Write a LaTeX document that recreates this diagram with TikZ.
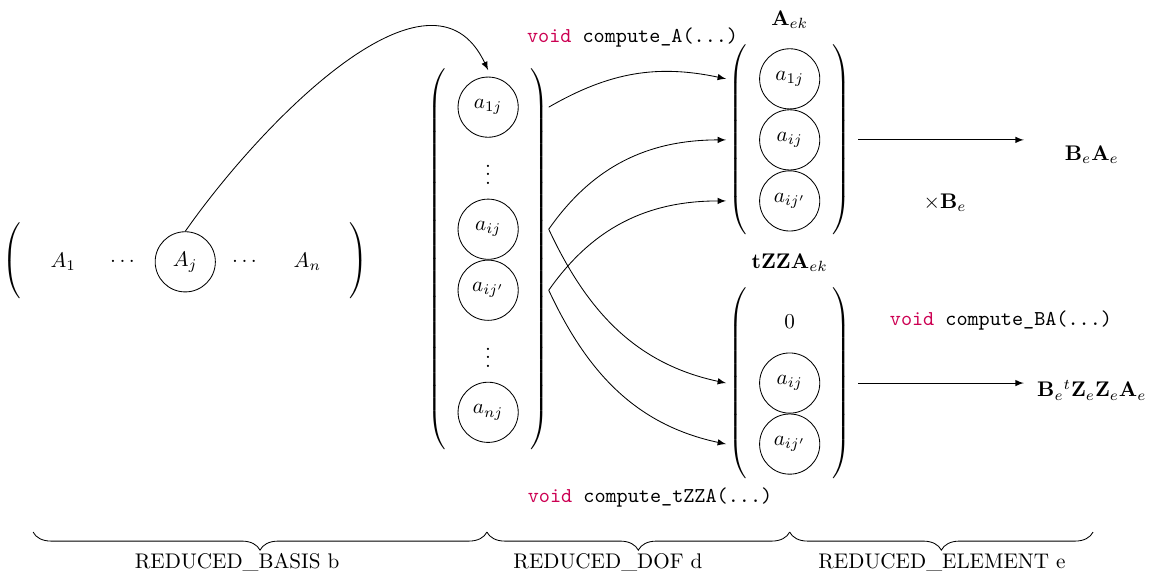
\documentclass[tikz,border=0pt]{standalone}
\usepackage{amsmath,amssymb}
\usetikzlibrary{positioning,fit,matrix,decorations.pathreplacing}
\definecolor{kwred}{RGB}{204,0,82}
\newcommand{\kw}[1]{\textcolor{kwred}{#1}}

\begin{document}
\begin{tikzpicture}[
    entry/.style={circle, draw, minimum size=1cm, inner sep=0pt},
    blank/.style={circle, minimum size=1cm, inner sep=0pt},
    vec/.style={inner xsep=0.15cm, inner ysep=0.1cm, left delimiter=(, right delimiter=)},
    arr/.style={->, >=latex},
    brace/.style={decorate, decoration={brace, mirror, amplitude=0.3cm}},
    code/.style={font=\ttfamily}
]
    \useasboundingbox (0,0) rectangle (19.09,-9.55);

    % --- reduced basis row ---
    \node[blank] (A1) at (1.05,-4.35) {$A_1$};
    \node[blank, right=0pt of A1] (Ad1) {$\dots$};
    \node[entry, right=0pt of Ad1] (Aj) {$A_j$};
    \node[blank, right=0pt of Aj] (Ad2) {$\dots$};
    \node[blank, right=0pt of Ad2] (An) {$A_n$};
    \node[vec, fit=(A1)(An)] (basis) {};

    % --- reduced dof column ---
    \node[entry] (d1) at (8.11,-1.78) {$a_{1j}$};
    \node[blank, below=0pt of d1] (dv1) {$\vdots$};
    \node[entry, below=0pt of dv1] (dij) {$a_{ij}$};
    \node[entry, below=0pt of dij] (dijp) {$a_{ij'}$};
    \node[blank, below=0pt of dijp] (dv2) {$\vdots$};
    \node[entry, below=0pt of dv2] (dn) {$a_{nj}$};
    \node[vec, fit=(d1)(dn)] (dof) {};

    % --- reduced element columns ---
    \node[entry] (e1) at (13.12,-1.31) {$a_{1j}$};
    \node[entry, below=0pt of e1] (eij) {$a_{ij}$};
    \node[entry, below=0pt of eij] (eijp) {$a_{ij'}$};
    \node[vec, fit=(e1)(eijp)] (Aek) {};
    \node (AekL) at (13.12,-0.33) {$\mathbf{A}_{ek}$};

    \node[blank] (z0) at (13.12,-5.35) {$0$};
    \node[entry, below=0pt of z0] (zij) {$a_{ij}$};
    \node[entry, below=0pt of zij] (zijp) {$a_{ij'}$};
    \node[vec, fit=(z0)(zijp)] (tZZA) {};
    \node (tZZAL) at (13.12,-4.37) {$\mathbf{tZZA}_{ek}$};

    % --- products ---
    \node (BA) at (18.14,-2.57) {$\mathbf{B}_e\mathbf{A}_e$};
    \node (timesB) at (15.70,-3.37) {$\times\mathbf{B}_e$};
    \node (BZZA) at (18.14,-6.48) {$\mathbf{B}_e{}^t\mathbf{Z}_e\mathbf{Z}_e\mathbf{A}_e$};

    % --- routines ---
    \node[code] (fA) at (10.51,-0.63) {\kw{void} compute\_A(...)};
    \node[code] (fZ) at (10.80,-8.26) {\kw{void} compute\_tZZA(...)};
    \node[code] (fBA) at (16.63,-5.33) {\kw{void} compute\_BA(...)};

    % --- connectors ---
    \draw[arr] (Aj.north) to[out=55,in=115] (dof.north);
    \draw[arr] ([xshift=0.5cm]d1.east) to[out=30,in=168] ([xshift=-0.55cm]e1.west);
    \draw[arr] ([xshift=0.5cm]dij.east) to[out=55,in=180] ([xshift=-0.55cm]eij.west);
    \draw[arr] ([xshift=0.5cm]dijp.east) to[out=55,in=180] ([xshift=-0.55cm]eijp.west);
    \draw[arr] ([xshift=0.5cm]dij.east) to[out=-65,in=168] ([xshift=-0.55cm]zij.west);
    \draw[arr] ([xshift=0.5cm]dijp.east) to[out=-65,in=168] ([xshift=-0.55cm]zijp.west);

    \coordinate (r1) at (17.01,0);
    \draw[arr] ([xshift=0.63cm]eij.east) -- (eij -| r1);
    \draw[arr] ([xshift=0.63cm]zij.east) -- (zij -| r1);

    % --- braces ---
    \coordinate (k0) at (0.55,-8.84);
    \coordinate (k1) at (8.09,-8.84);
    \coordinate (k2) at (13.12,-8.84);
    \coordinate (k3) at (18.16,-8.84);
    \draw[brace] (k0) -- (k1);
    \draw[brace] (k1) -- (k2);
    \draw[brace] (k2) -- (k3);
    \node (lb) at (3.94,-9.34) {REDUCED\_BASIS b};
    \node (ld) at (10.10,-9.34) {REDUCED\_DOF d};
    \node (le) at (15.65,-9.34) {REDUCED\_ELEMENT e};
\end{tikzpicture}
\end{document}
